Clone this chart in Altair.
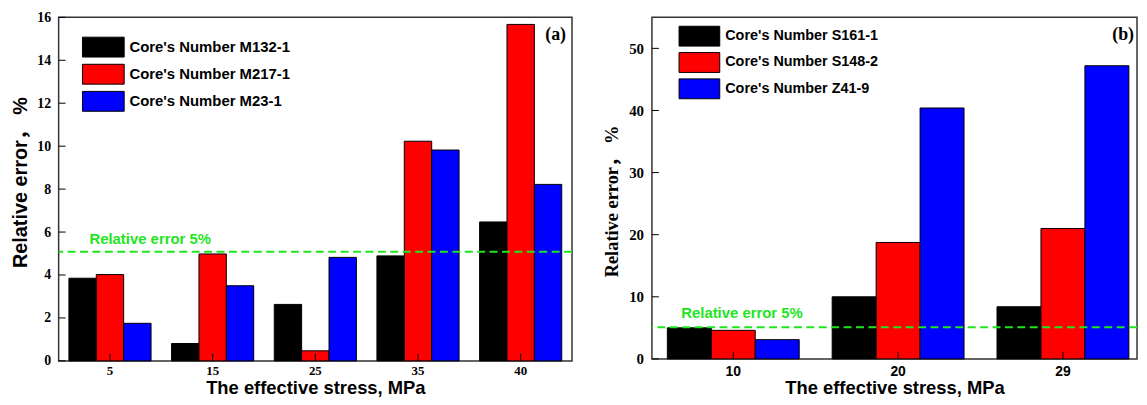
import altair as alt
import pandas as pd

# ---------------- data ----------------
stress_a = ["5", "15", "25", "35", "40"]
series_a = ["Core's Number M132-1", "Core's Number M217-1", "Core's Number M23-1"]
m132_1 = [3.85, 0.81, 2.63, 4.89, 6.47]
m217_1 = [4.02, 4.98, 0.47, 10.23, 15.67]
m23_1 = [1.75, 3.50, 4.82, 9.82, 8.22]
yticks_a = [0, 2, 4, 6, 8, 10, 12, 14, 16]
ydomain_a = [0, 16]

stress_b = ["10", "20", "29"]
series_b = ["Core's Number S161-1", "Core's Number S148-2", "Core's Number Z41-9"]
s161_1 = [5.0, 10.0, 8.4]
s148_2 = [4.6, 18.75, 21.0]
z41_9 = [3.1, 40.4, 47.2]
yticks_b = [0, 10, 20, 30, 40, 50]
ydomain_b = [0, 55]

colors = ["#000000", "#ff0000", "#0000ff"]
threshold = [5.08]
threshold_label = ["Relative error 5%"]
panel_labels = ["(a)", "(b)"]
x_title = "The effective stress, MPa"
y_title = "Relative error\uff0c %"

SANS = "Liberation Sans, Arial, Noto Sans CJK SC"
SERIF = "Liberation Serif, Times New Roman, Noto Sans CJK SC"
GREEN = "#1ee61e"


def panel(stress, series, values, yticks, ydomain, W, H, pad_outer, align,
          label, label_dx, xlab_font, xlab_size, xlab_pad, ylab_size, ylab_pad,
          ytitle_font, ytitle_size, ytitle_x, ytitle_y, xtitle_y,
          leg_x, leg_y, leg_path, leg_font, leg_offset, leg_rowpad,
          thr_x, thr_dy):
    rows = []
    for s, vals in zip(series, values):
        for x, v in zip(stress, vals):
            rows.append({"stress": x, "series": s, "value": v})
    df = pd.DataFrame(rows)

    xscale = alt.Scale(domain=stress, paddingInner=0.2, paddingOuter=pad_outer, align=align)
    yscale = alt.Scale(domain=ydomain, nice=False, zero=True)
    xaxis = alt.Axis(
        title=x_title, titleFont=SANS, titleFontSize=18.5, titleFontWeight="bold",
        titleColor="black", titleY=xtitle_y, titleBaseline="alphabetic",
        labelFont=xlab_font, labelFontSize=xlab_size, labelFontWeight="bold",
        labelColor="black", labelPadding=xlab_pad, labelAngle=0,
        ticks=False, tickSize=0, domain=False, grid=False)
    yaxis = alt.Axis(
        title=y_title, titleFont=ytitle_font, titleFontSize=ytitle_size,
        titleFontWeight="bold", titleColor="black", titleX=ytitle_x, titleY=ytitle_y,
        titleBaseline="middle", titleAlign="center", titleAngle=270,
        labelFont=SERIF, labelFontSize=ylab_size, labelFontWeight="bold",
        labelColor="black", labelPadding=ylab_pad, values=yticks,
        ticks=False, tickSize=0, domain=False, grid=False)
    X = alt.X("stress:N", scale=xscale, axis=xaxis)
    Y = alt.Y("value:Q", scale=yscale, axis=yaxis)

    bars = alt.Chart(df).mark_bar(stroke="black", strokeWidth=1).encode(
        x=X,
        xOffset=alt.XOffset("series:N", scale=alt.Scale(domain=series, paddingInner=0, paddingOuter=0)),
        y=Y,
        color=alt.Color("series:N", scale=alt.Scale(domain=series, range=colors),
                        legend=alt.Legend(
                            title=None, orient="none", legendX=leg_x, legendY=leg_y,
                            symbolType=leg_path, symbolSize=400,
                            symbolStrokeColor="black", symbolStrokeWidth=1,
                            symbolOpacity=1, labelFont=SANS, labelFontSize=leg_font,
                            labelFontWeight="bold", labelColor="black",
                            labelOffset=leg_offset, rowPadding=leg_rowpad,
                            padding=0, labelLimit=400)),
    )

    tick_y = alt.Chart(pd.DataFrame({"value": yticks})).mark_rule(
        color="black", strokeWidth=1).encode(
        y=Y, x=alt.value(0), x2=alt.value(7))

    tick_x = alt.Chart(pd.DataFrame({"stress": stress})).mark_rule(
        color="black", strokeWidth=1).encode(
        x=X, y=alt.value(H), y2=alt.value(H - 7))

    thr_df = pd.DataFrame({"value": threshold, "lab": threshold_label})
    thr_rule = alt.Chart(thr_df).mark_rule(
        color=GREEN, strokeWidth=2, strokeDash=[8, 4.5]).encode(y=Y)
    thr_text = alt.Chart(thr_df).mark_text(
        align="left", baseline="middle", dy=thr_dy, font=SANS, fontSize=15,
        fontWeight="bold", color=GREEN).encode(
        y=Y, x=alt.value(thr_x), text="lab:N")

    lab = alt.Chart(pd.DataFrame({"lab": [label]})).mark_text(
        align="right", baseline="middle", font=SERIF, fontSize=18,
        fontWeight="bold", color="black").encode(
        x=alt.value(W - label_dx), y=alt.value(18), text="lab:N")

    return alt.layer(bars, thr_rule, thr_text, tick_x, tick_y, lab).properties(
        width=W, height=H)


path_a = "M-2.1,-1H2.1V1H-2.1Z"
path_b = "M-2.05,-1H2.05V1H-2.05Z"

pa = panel(stress_a, series_a, [m132_1, m217_1, m23_1], yticks_a, ydomain_a,
           517, 346, 0.1, 0.5, panel_labels[0], 6,
           SERIF, 13, 4, 14, 8,
           SANS, 20, -38, 166, 33,
           34.5, 19.5, path_a, 15, 15.8, 2.3,
           31, -13)

pb = panel(stress_b, series_b, [s161_1, s148_2, z41_9], yticks_b, ydomain_b,
           488.5, 344, 0.0714, 0.654, panel_labels[1], 3,
           SANS, 14, 5.5, 15, 8.5,
           SERIF, 18.5, -40.5, 185, 35,
           37.3, 8.5, path_b, 14.5, 15.5, 1.5,
           29.5, -14)

chart = alt.hconcat(pa, pb, spacing=80.5, bounds="flush").resolve_scale(
    x="independent", y="independent", color="independent", xOffset="independent"
).resolve_legend(color="independent").properties(
    padding={"left": 2, "top": 0, "right": 0, "bottom": 0}
).configure(background="white").configure_view(stroke="#333", strokeWidth=1.5)

chart.save("out.html", embed_options={"renderer": "svg", "actions": False})
